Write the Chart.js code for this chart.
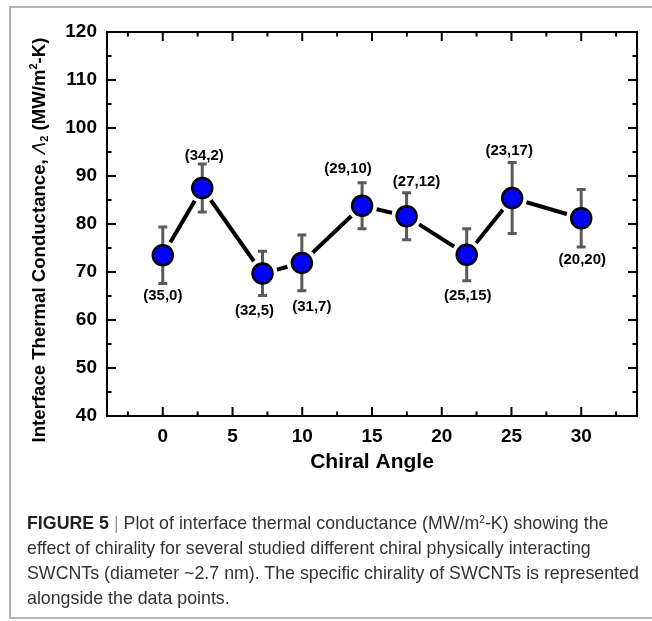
<!DOCTYPE html>
<html>
<head>
<meta charset="utf-8">
<script src="https://cdn.jsdelivr.net/npm/chart.js@4.4.1/dist/chart.umd.min.js"></script>
<style>
	body { margin: 0; background: #fff; }
	#figure { position: relative; width: 652px; height: 621px; overflow: hidden; background: #fff; }
	#chart { position: absolute; left: 0; top: 0; }
	#frame { position: absolute; left: 9px; top: 6px; width: 720px; height: 613px; border: 2px solid #b4b4b4; box-sizing: border-box; }
	#caption { position: absolute; left: 27px; top: 511px; font: 17.8px/25px "Liberation Sans", Arial, sans-serif; color: #333; white-space: nowrap; }
	#caption b { color: #222; }
	#caption .bar { color: #999; }
	#caption sup { font-size: 10px; vertical-align: 6px; line-height: 0; }
</style>
</head>
<body>
<div id="figure">
	<div id="frame"></div>
	<canvas id="chart" width="652" height="621"></canvas>
	<div id="caption">
		<b>FIGURE 5</b> <span class="bar">|</span> Plot of interface thermal conductance (MW/m<sup>2</sup>-K) showing the<br>
		effect of chirality for several studied different chiral physically interacting<br>
		SWCNTs (diameter ~2.7 nm). The specific chirality of SWCNTs is represented<br>
		alongside the data points.
	</div>
</div>
<script>
// chirality (n,m), chiral angle in degrees, conductance in MW/m2-K
var chiralities = ['(35,0)', '(34,2)', '(32,5)', '(31,7)', '(29,10)', '(27,12)', '(25,15)', '(23,17)', '(20,20)'];
var chiralAngles = [0, 2.83, 7.15, 9.97, 14.29, 17.48, 21.79, 25.05, 30];
var conductance = [73.5, 87.5, 69.7, 71.9, 83.8, 81.6, 73.6, 85.4, 81.2];
var conductanceErr = [5.9, 5.0, 4.6, 5.8, 4.8, 4.9, 5.4, 7.4, 6.0];

var xTicks = [0, 5, 10, 15, 20, 25, 30];
var yTicks = [40, 50, 60, 70, 80, 90, 100, 110, 120];

// where each chirality label sits relative to its marker (px)
var labelOffsets = [[0, 41], [2, -32], [-8, 37], [10, 44], [-14, -37], [10, -34], [1, 41], [-3, -47], [1, 42]];

var FONT = '"Liberation Sans", Arial, sans-serif';

var points = chiralAngles.map(function(a, i) {
	return { x: a, y: conductance[i] };
});

// box around the plot with inward ticks on all four sides
var frameTicks = {
	id: 'frameTicks',
	beforeDatasetsDraw: function(chart) {
		var ctx = chart.ctx, a = chart.chartArea, sx = chart.scales.x, sy = chart.scales.y;
		var v, p, len;
		ctx.save();
		ctx.strokeStyle = '#000';
		ctx.lineWidth = 2;
		ctx.strokeRect(a.left, a.top, a.right - a.left, a.bottom - a.top);
		ctx.beginPath();
		for (v = -2.5; v <= 32.5; v += 2.5) {
			p = sx.getPixelForValue(v);
			len = v % 5 === 0 ? 9 : 4.5;
			ctx.moveTo(p, a.bottom); ctx.lineTo(p, a.bottom - len);
			ctx.moveTo(p, a.top); ctx.lineTo(p, a.top + len);
		}
		for (v = 45; v < 120; v += 5) {
			p = sy.getPixelForValue(v);
			len = v % 10 === 0 ? 9 : 4.5;
			ctx.moveTo(a.left, p); ctx.lineTo(a.left + len, p);
			ctx.moveTo(a.right, p); ctx.lineTo(a.right - len, p);
		}
		ctx.stroke();
		ctx.restore();
	}
};

// error bars go in after the white halos, just before the markers
var errorBars = {
	id: 'errorBars',
	beforeDatasetDraw: function(chart, args) {
		if (args.index !== 0) return;
		var ctx = chart.ctx, sx = chart.scales.x, sy = chart.scales.y;
		ctx.save();
		ctx.strokeStyle = '#5a5a5a';
		ctx.lineWidth = 3;
		ctx.beginPath();
		chiralAngles.forEach(function(a, i) {
			var px = sx.getPixelForValue(a);
			var top = sy.getPixelForValue(conductance[i] + conductanceErr[i]);
			var bot = sy.getPixelForValue(conductance[i] - conductanceErr[i]);
			ctx.moveTo(px, top); ctx.lineTo(px, bot);
			ctx.moveTo(px - 4.5, top); ctx.lineTo(px + 4.5, top);
			ctx.moveTo(px - 4.5, bot); ctx.lineTo(px + 4.5, bot);
		});
		ctx.stroke();
		ctx.restore();
	}
};

var pointLabels = {
	id: 'pointLabels',
	afterDatasetsDraw: function(chart) {
		var ctx = chart.ctx, sx = chart.scales.x, sy = chart.scales.y;
		ctx.save();
		ctx.fillStyle = '#000';
		ctx.font = 'bold 15px ' + FONT;
		ctx.textAlign = 'center';
		ctx.textBaseline = 'middle';
		chiralities.forEach(function(txt, i) {
			ctx.fillText(txt,
				sx.getPixelForValue(chiralAngles[i]) + labelOffsets[i][0],
				sy.getPixelForValue(conductance[i]) + labelOffsets[i][1]);
		});
		ctx.restore();
	}
};

function drawParts(ctx, parts) {
	var total = 0, x;
	parts.forEach(function(p) {
		ctx.font = p.font;
		p.w = ctx.measureText(p.text).width;
		total += p.w;
	});
	x = -total / 2;
	parts.forEach(function(p) {
		ctx.font = p.font;
		ctx.fillText(p.text, x, p.dy || 0);
		x += p.w;
	});
}

var axisTitles = {
	id: 'axisTitles',
	afterDraw: function(chart) {
		var ctx = chart.ctx, a = chart.chartArea;
		ctx.save();
		ctx.fillStyle = '#000';
		ctx.textAlign = 'left';
		ctx.textBaseline = 'middle';

		ctx.save();
		ctx.translate((a.left + a.right) / 2, 462);
		drawParts(ctx, [{ text: 'Chiral Angle', font: 'bold 21px ' + FONT }]);
		ctx.restore();

		ctx.translate(40, 240);
		ctx.rotate(-Math.PI / 2);
		drawParts(ctx, [
			{ text: 'Interface Thermal Conductance, ', font: 'bold 18.6px ' + FONT },
			{ text: '\u039B', font: 'italic 18.6px ' + FONT },
			{ text: '2', font: 'bold 11px ' + FONT, dy: 5 },
			{ text: ' (MW/m', font: 'bold 18.6px ' + FONT },
			{ text: '2', font: 'bold 11px ' + FONT, dy: -6 },
			{ text: '-K)', font: 'bold 18.6px ' + FONT }
		]);
		ctx.restore();
	}
};

Chart.defaults.color = '#000';

new Chart(document.getElementById('chart').getContext('2d'), {
	type: 'line',
	data: {
		datasets: [{
			label: 'markers',
			data: points,
			showLine: false,
			order: 0,
			pointRadius: 10,
			pointBackgroundColor: '#0000ff',
			pointBorderColor: '#000',
			pointBorderWidth: 2.5
		}, {
			label: 'halo',
			data: points,
			showLine: false,
			order: 1,
			pointRadius: 15,
			pointBackgroundColor: '#fff',
			pointBorderWidth: 0
		}, {
			label: 'line',
			data: points,
			order: 2,
			borderColor: '#000',
			borderWidth: 4,
			pointRadius: 0,
			tension: 0,
			fill: false
		}]
	},
	options: {
		responsive: false,
		animation: false,
		events: [],
		layout: { padding: { left: 0, top: 32, right: 12, bottom: 160 } },
		plugins: { legend: { display: false }, tooltip: { enabled: false } },
		scales: {
			x: {
				type: 'linear',
				min: -4,
				max: 34,
				grid: { display: false, drawTicks: false },
				border: { display: false },
				afterBuildTicks: function(s) { s.ticks = xTicks.map(function(v) { return { value: v }; }); },
				afterFit: function(s) { s.height = 45; },
				ticks: { padding: 9, maxRotation: 0, font: { family: FONT, size: 19, weight: 'bold' } }
			},
			y: {
				min: 40,
				max: 120,
				grid: { display: false, drawTicks: false },
				border: { display: false },
				afterBuildTicks: function(s) { s.ticks = yTicks.map(function(v) { return { value: v }; }); },
				afterFit: function(s) { s.width = 107; },
				ticks: { padding: 10, font: { family: FONT, size: 19, weight: 'bold' } }
			}
		}
	},
	plugins: [frameTicks, errorBars, pointLabels, axisTitles]
});
</script>
</body>
</html>
